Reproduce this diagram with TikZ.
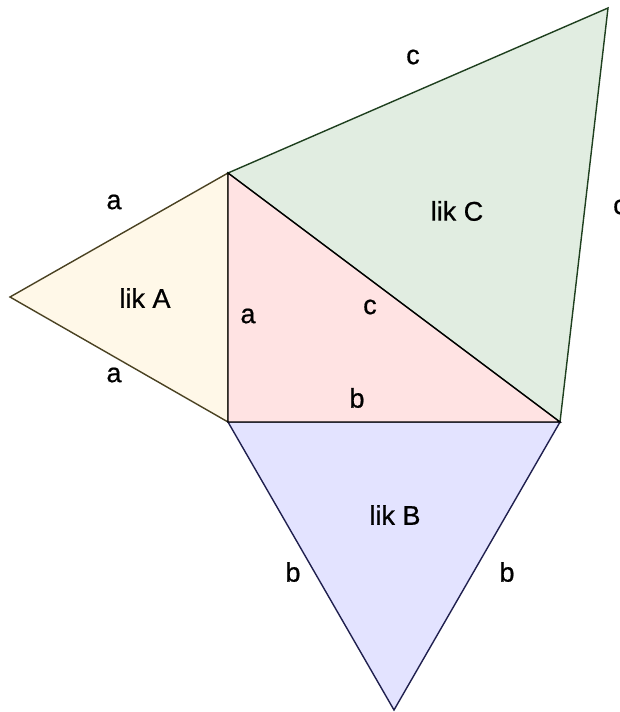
\documentclass[tikz,border=0pt]{standalone}
\usepackage{fontspec}
\setmainfont{Liberation Sans}
\newfontfamily\lblfont[FakeBold=0.7]{Liberation Sans}
\definecolor{fillA}{HTML}{FFF8E8}
\definecolor{edgeA}{HTML}{4A4222}
\definecolor{fillR}{HTML}{FFE3E3}
\definecolor{fillC}{HTML}{E1EDE1}
\definecolor{edgeC}{HTML}{1E3F1E}
\definecolor{fillB}{HTML}{E3E3FF}
\definecolor{edgeB}{HTML}{20204F}
\tikzset{
  tri/.style={line width=1.4pt, line join=miter},
  lbl/.style={font=\lblfont\fontsize{27}{30}\selectfont, inner sep=0pt, anchor=center},
}
\begin{document}
\begin{tikzpicture}[x=1pt,y=-1pt]
\useasboundingbox (0,0) rectangle (620,712);
\fill[white] (0,0) rectangle (620,712);
\coordinate (P) at (228,173);
\coordinate (Q) at (228,422);
\coordinate (R) at (560,422);
\coordinate (A) at (10,297);
\coordinate (B) at (394,710);
\coordinate (C) at (608,8);
\filldraw[tri, fill=fillA, draw=edgeA] (P) -- (A) -- (Q) -- cycle;
\filldraw[tri, fill=fillC, draw=edgeC] (P) -- (C) -- (R) -- cycle;
\filldraw[tri, fill=fillB, draw=edgeB] (Q) -- (B) -- (R) -- cycle;
\filldraw[tri, fill=fillR, draw=black] (P) -- (Q) -- (R) -- cycle;
\node[lbl] (lc1) at (413,57) {c};
\node[lbl] (la1) at (114,202) {a};
\node[lbl] (likC) at (457,211) {lik C};
\node[lbl] (lc2) at (620,207) {c};
\node[lbl] (likA) at (145,298) {lik A};
\node[lbl] (la2) at (248,316) {a};
\node[lbl] (lc3) at (370,307) {c};
\node[lbl] (la3) at (114,375) {a};
\node[lbl] (lb1) at (357,398) {b};
\node[lbl] (likB) at (395,515) {lik B};
\node[lbl] (lb2) at (293,572) {b};
\node[lbl] (lb3) at (507,572) {b};
\end{tikzpicture}
\end{document}
